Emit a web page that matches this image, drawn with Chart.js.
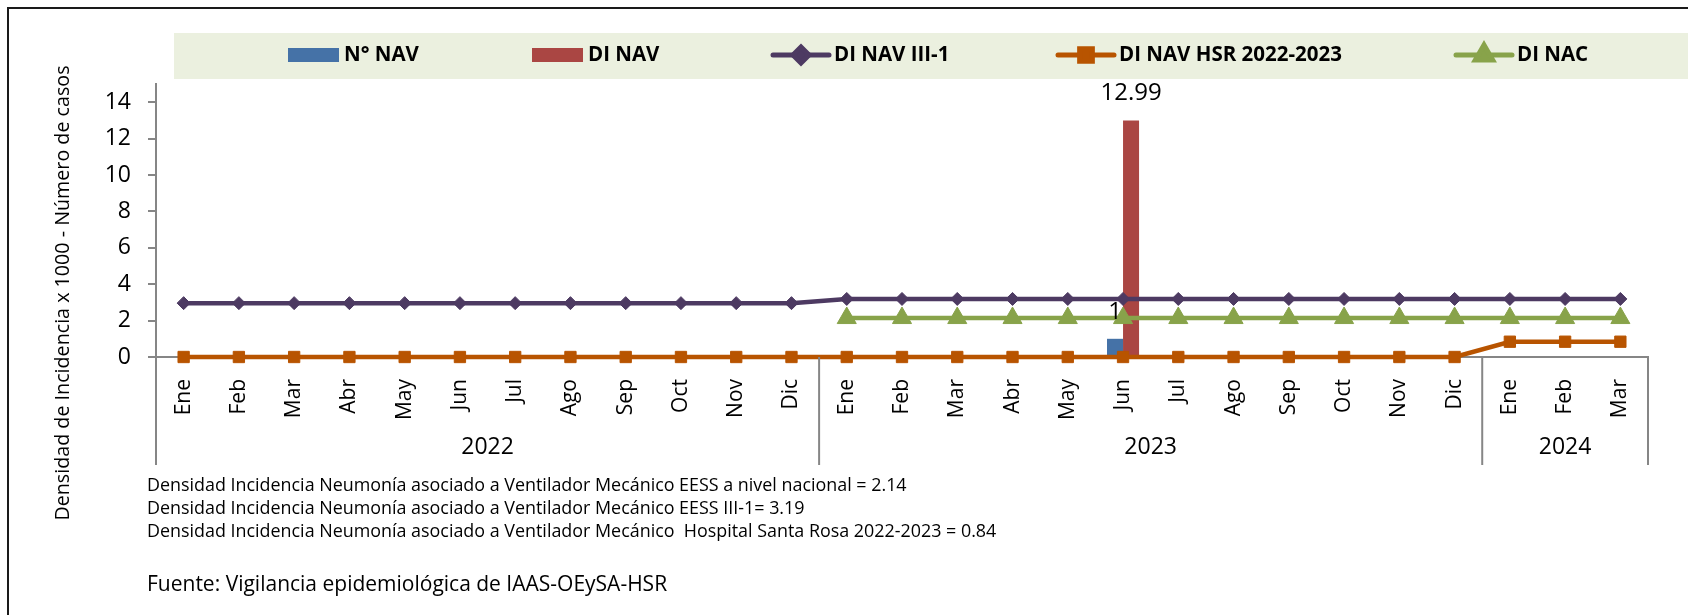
<!DOCTYPE html>
<html>
<head>
<meta charset="utf-8">
<script src="https://cdn.jsdelivr.net/npm/chart.js@4.4.1/dist/chart.umd.min.js"></script>
<style>
  html, body { margin: 0; padding: 0; background: #fff; overflow: hidden; }
</style>
</head>
<body>
<canvas id="chart" width="1688" height="615"></canvas>
<script>
// meses por año (eje de categorías agrupado)
const years = ["2022", "2023", "2024"];
const months = [
  "Ene", "Feb", "Mar", "Abr", "May", "Jun", "Jul", "Ago", "Sep", "Oct", "Nov", "Dic",
  "Ene", "Feb", "Mar", "Abr", "May", "Jun", "Jul", "Ago", "Sep", "Oct", "Nov", "Dic",
  "Ene", "Feb", "Mar"
];
const monthsPerYear = [12, 12, 3];
const yTicks = [0, 2, 4, 6, 8, 10, 12, 14];

const nNav = [
  0, 0, 0, 0, 0, 0, 0, 0, 0, 0, 0, 0,
  0, 0, 0, 0, 0, 1, 0, 0, 0, 0, 0, 0,
  0, 0, 0
];
const diNav = [
  0, 0, 0, 0, 0, 0, 0, 0, 0, 0, 0, 0,
  0, 0, 0, 0, 0, 12.99, 0, 0, 0, 0, 0, 0,
  0, 0, 0
];
const diNavIII1 = [
  2.96, 2.96, 2.96, 2.96, 2.96, 2.96, 2.96, 2.96, 2.96, 2.96, 2.96, 2.96,
  3.19, 3.19, 3.19, 3.19, 3.19, 3.19, 3.19, 3.19, 3.19, 3.19, 3.19, 3.19,
  3.19, 3.19, 3.19
];
const diNavHsr = [
  0, 0, 0, 0, 0, 0, 0, 0, 0, 0, 0, 0,
  0, 0, 0, 0, 0, 0, 0, 0, 0, 0, 0, 0,
  0.84, 0.84, 0.84
];
const diNac = [
  null, null, null, null, null, null, null, null, null, null, null, null,
  2.14, 2.14, 2.14, 2.14, 2.14, 2.14, 2.14, 2.14, 2.14, 2.14, 2.14, 2.14,
  2.14, 2.14, 2.14
];

const yTitle = "Densidad de Incidencia x 1000 - Número de casos";
const notes = [
  "Densidad Incidencia Neumonía asociado a Ventilador Mecánico EESS a nivel nacional = 2.14",
  "Densidad Incidencia Neumonía asociado a Ventilador Mecánico EESS III-1= 3.19",
  "Densidad Incidencia Neumonía asociado a Ventilador Mecánico  Hospital Santa Rosa 2022-2023 = 0.84"
];
const source = "Fuente: Vigilancia epidemiológica de IAAS-OEySA-HSR";

const FONT = "'Open Sans', sans-serif";
const AXIS_GRAY = "#868686";

// dibuja marco, leyenda, títulos, grupos de años y etiquetas
const decorPlugin = {
  id: "decor",
  beforeDraw(chart) {
    const ctx = chart.ctx;
    ctx.save();
    ctx.fillStyle = "#fff";
    ctx.fillRect(0, 0, chart.width, chart.height);
    // marco exterior
    ctx.strokeStyle = "#1a1a1a";
    ctx.lineWidth = 2;
    ctx.strokeRect(8, 8, chart.width + 20, chart.height + 20);
    // caja de leyenda
    ctx.fillStyle = "#EBF0DF";
    ctx.fillRect(174, 33, chart.width - 174, 46);
    ctx.restore();
  },
  afterDatasetsDraw(chart) {
    const ctx = chart.ctx;
    ctx.save();
    ctx.fillStyle = "#000";
    ctx.font = "24px " + FONT;
    ctx.textAlign = "center";
    ctx.textBaseline = "middle";
    [0, 1].forEach((di) => {
      const meta = chart.getDatasetMeta(di);
      meta.data.forEach((bar, i) => {
        const v = chart.data.datasets[di].data[i];
        if (!v) return;
        ctx.fillText(String(v), bar.x, bar.y - 27);
      });
    });
    ctx.restore();
  },
  afterDraw(chart) {
    const ctx = chart.ctx;
    const x = chart.scales.x;
    const area = chart.chartArea;
    const step = (area.right - area.left) / months.length;
    ctx.save();

    // leyenda
    const legendX = [288, 532, 773, 1058, 1456];
    const ly = 55;
    ctx.font = "bold 20.5px " + FONT;
    ctx.textBaseline = "middle";
    ctx.textAlign = "left";
    chart.data.datasets.forEach((ds, i) => {
      const sx = legendX[i];
      let tx;
      if (ds.type === "bar") {
        ctx.fillStyle = ds.backgroundColor;
        ctx.fillRect(sx, ly - 7, 51, 14);
        tx = sx + 56;
      } else {
        ctx.strokeStyle = ds.borderColor;
        ctx.lineWidth = 5;
        ctx.lineCap = "round";
        ctx.beginPath();
        ctx.moveTo(sx, ly);
        ctx.lineTo(sx + 56, ly);
        ctx.stroke();
        ctx.lineCap = "butt";
        const r = { rectRot: 8, rect: 9, triangle: 10 }[ds.pointStyle];
        ctx.fillStyle = ds.borderColor;
        Chart.helpers.drawPoint(ctx, { pointStyle: ds.pointStyle, radius: r, borderWidth: 1, rotation: 0 }, sx + 28, ly);
        tx = sx + 61;
      }
      ctx.fillStyle = "#000";
      ctx.fillText(ds.label, tx, ly);
    });

    // título eje Y
    ctx.save();
    ctx.translate(63, 293);
    ctx.rotate(-Math.PI / 2);
    ctx.font = "19.7px " + FONT;
    ctx.textAlign = "center";
    ctx.fillStyle = "#000";
    ctx.fillText(yTitle, 0, 0);
    ctx.restore();

    // grupos de años
    const yTop = area.bottom;
    const yBot = 465;
    ctx.strokeStyle = AXIS_GRAY;
    ctx.lineWidth = 2;
    ctx.font = "23px " + FONT;
    ctx.textAlign = "center";
    ctx.fillStyle = "#000";
    let start = 0;
    monthsPerYear.forEach((n, gi) => {
      const x0 = x.getPixelForValue(start) - step / 2;
      const x1 = x.getPixelForValue(start + n - 1) + step / 2;
      ctx.beginPath();
      ctx.moveTo(x0, yTop);
      ctx.lineTo(x0, yBot);
      if (gi === monthsPerYear.length - 1) {
        ctx.moveTo(x1, yTop);
        ctx.lineTo(x1, yBot);
      }
      ctx.stroke();
      ctx.fillText(years[gi], (x0 + x1) / 2, 447);
      start += n;
    });

    // notas
    ctx.textAlign = "left";
    ctx.font = "17.9px " + FONT;
    notes.forEach((t, i) => ctx.fillText(t, 147, 486 + i * 23));
    ctx.font = "21px " + FONT;
    ctx.fillText(source, 147, 585);
    ctx.restore();
  }
};

const lineCommon = {
  type: "line",
  borderWidth: 4.5,
  pointBorderWidth: 1,
  clip: false,
  order: 1,
  spanGaps: false
};

const chart = new Chart(document.getElementById("chart"), {
  data: {
    labels: months,
    datasets: [
      { type: "bar", label: "N° NAV", data: nNav, backgroundColor: "#4572A7", order: 2, categoryPercentage: 0.58, barPercentage: 1 },
      { type: "bar", label: "DI NAV", data: diNav, backgroundColor: "#AA4643", order: 2, categoryPercentage: 0.58, barPercentage: 1 },
      { ...lineCommon, label: "DI NAV III-1", data: diNavIII1, borderColor: "#4D3A62", backgroundColor: "#4D3A62", pointStyle: "rectRot", pointRadius: 6.5 },
      { ...lineCommon, label: "DI NAV HSR 2022-2023", data: diNavHsr, borderColor: "#B85400", backgroundColor: "#B85400", pointStyle: "rect", pointRadius: 8 },
      { ...lineCommon, label: "DI NAC", data: diNac, borderColor: "#88A34A", backgroundColor: "#88A34A", pointStyle: "triangle", pointRadius: 11 }
    ]
  },
  options: {
    responsive: false,
    animation: false,
    layout: { padding: { left: 0, top: 84, right: 40, bottom: 0 } },
    plugins: { legend: { display: false }, tooltip: { enabled: false } },
    scales: {
      x: {
        grid: { display: false },
        border: { display: true, color: AXIS_GRAY, width: 2 },
        ticks: { maxRotation: 90, minRotation: 90, autoSkip: false, padding: 14, color: "#000", font: { family: FONT, size: 21 } },
        afterFit(s) { s.height = 258; }
      },
      y: {
        min: 0,
        max: 15,
        ticks: { padding: 17, color: "#000", font: { family: FONT, size: 23 } },
        afterBuildTicks(s) { s.ticks = yTicks.map((v) => ({ value: v })); },
        grid: { drawOnChartArea: false, drawTicks: true, tickLength: 8, color: AXIS_GRAY, lineWidth: 2 },
        border: { color: AXIS_GRAY, width: 2 },
        afterFit(s) { s.width = 156; }
      }
    }
  },
  plugins: [decorPlugin]
});
</script>
</body>
</html>
